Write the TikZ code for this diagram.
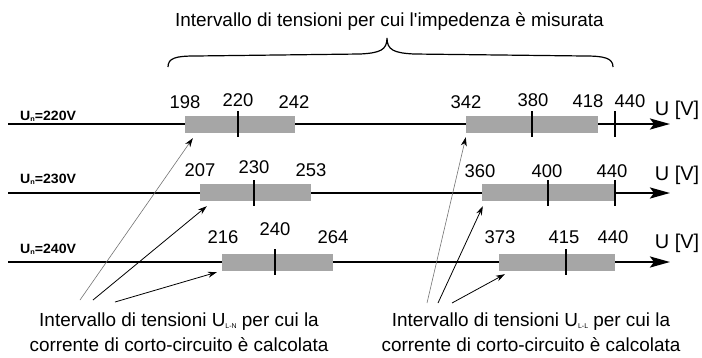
\documentclass[tikz,border=0pt]{standalone}
\usepackage{fontspec}
\setmainfont{Liberation Sans}
\usetikzlibrary{arrows.meta,calc}
\newcommand{\pedice}[1]{\raisebox{-1.5bp}{\fontsize{7}{7}\selectfont #1}}

\begin{document}
\begin{tikzpicture}[
    x=1bp, y=-1bp,
    ax/.style={line width=2.4bp, -{Stealth[length=20bp, width=11bp, inset=4bp]}},
    bar/.style={fill=black!35, draw=none, minimum height=17bp, inner sep=0pt},
    tk/.style={line width=1.6bp},
    num/.style={font=\fontsize{18.5}{20}\selectfont, inner sep=0pt},
    unit/.style={font=\fontsize{20}{22}\selectfont, inner sep=0pt},
    un/.style={font=\fontsize{13.5}{15}\selectfont\bfseries, inner sep=0pt, anchor=base west},
    txt/.style={font=\fontsize{19}{25}\selectfont, align=center, inner sep=0pt},
    ptr/.style={line width=0.8bp, -{Stealth[length=9bp, width=6bp, color=black]}}
  ]
    \useasboundingbox (0,0) rectangle (702,357);

    % titolo e graffa
    \node[txt] (tit) at (389.5,21) {Intervallo di tensioni per cui l\textquotesingle impedenza è misurata};
    \draw[line width=1.2bp] (168,67) .. controls (168,58) and (176,56) .. (195,56)
      -- (360,54) .. controls (380,53) and (387,50) .. (387,38)
      .. controls (387,50) and (394,53) .. (414,54)
      -- (585,56) .. controls (604,56) and (613,58) .. (613,67);

    % assi
    \foreach \r/\y/\uy in {1/124/110, 2/193/175, 3/262/243} {
      \coordinate (s\r) at (8,\y);
      \coordinate (e\r) at (670,\y);
      \draw[ax] (s\r) -- (e\r);
      \node[unit] (u\r) at (677,\uy) {U [V]};
    }
    \node[un] (un1) at (20,120) {\scalebox{1.05}[1]{U\pedice{n}=220V}};
    \node[un] (un2) at (20,183) {\scalebox{1.05}[1]{U\pedice{n}=230V}};
    \node[un] (un3) at (20,253) {\scalebox{1.05}[1]{U\pedice{n}=240V}};

    % intervalli
    \node[bar, minimum width=110bp] (b1l) at (240,124.5) {};
    \node[bar, minimum width=132bp] (b1r) at (532,124.5) {};
    \node[bar, minimum width=111bp] (b2l) at (255.5,192.5) {};
    \node[bar, minimum width=132bp] (b2r) at (548,192.5) {};
    \node[bar, minimum width=111bp] (b3l) at (277.5,262.5) {};
    \node[bar, minimum width=116bp] (b3r) at (557,262.5) {};

    % tacche
    \foreach \x/\y in {238/124, 532/124, 615/124, 254/193, 548/193, 615/193, 275/262, 566/262}
      \draw[tk] (\x,\y-13) -- (\x,\y+13);

    % valori
    \foreach \x/\y/\t in {185/102/198, 238/100/220, 294/102/242, 466/102/342, 533/100/380, 588/101/418, 630/101/440,
                          200/170/207, 254/167/230, 311/170/253, 480/171/360, 547/171/400, 612/171/440,
                          223/237/216, 275/229/240, 333/237/264, 500/237/373, 564/237/415, 613/237/440}
      \node[num] (n\x-\y) at (\x,\y) {\t};

    % didascalie in basso
    \node[txt] (dln) at (179,332.5) {Intervallo di tensioni U\pedice{L-N} per cui la\\corrente di corto-circuito è calcolata};
    \node[txt] (dll) at (531,332.5) {Intervallo di tensioni U\pedice{L-L} per cui la\\corrente di corto-circuito è calcolata};

    \coordinate (l1) at (80,300);
    \coordinate (l2) at (93,300);
    \coordinate (l3) at (115,302);
    \coordinate (r1) at (427,303);
    \coordinate (r2) at (438,303);
    \coordinate (r3) at (452,303);

    \draw[ptr, black!55, line width=0.6bp] (l1) -- ($(b1l.south west)+(8,5)$);
    \draw[ptr] (l2) -- ($(b2l.south west)+(7,5)$);
    \draw[ptr] (l3) -- ($(b3l.south west)+(-5,1)$);
    \draw[ptr, black!55, line width=0.6bp] (r1) -- ($(b1r.south west)+(0,4)$);
    \draw[ptr] (r2) -- ($(b2r.south west)+(1,5)$);
    \draw[ptr] (r3) -- ($(b3r.south west)+(6,3)$);
  \end{tikzpicture}
\end{document}
